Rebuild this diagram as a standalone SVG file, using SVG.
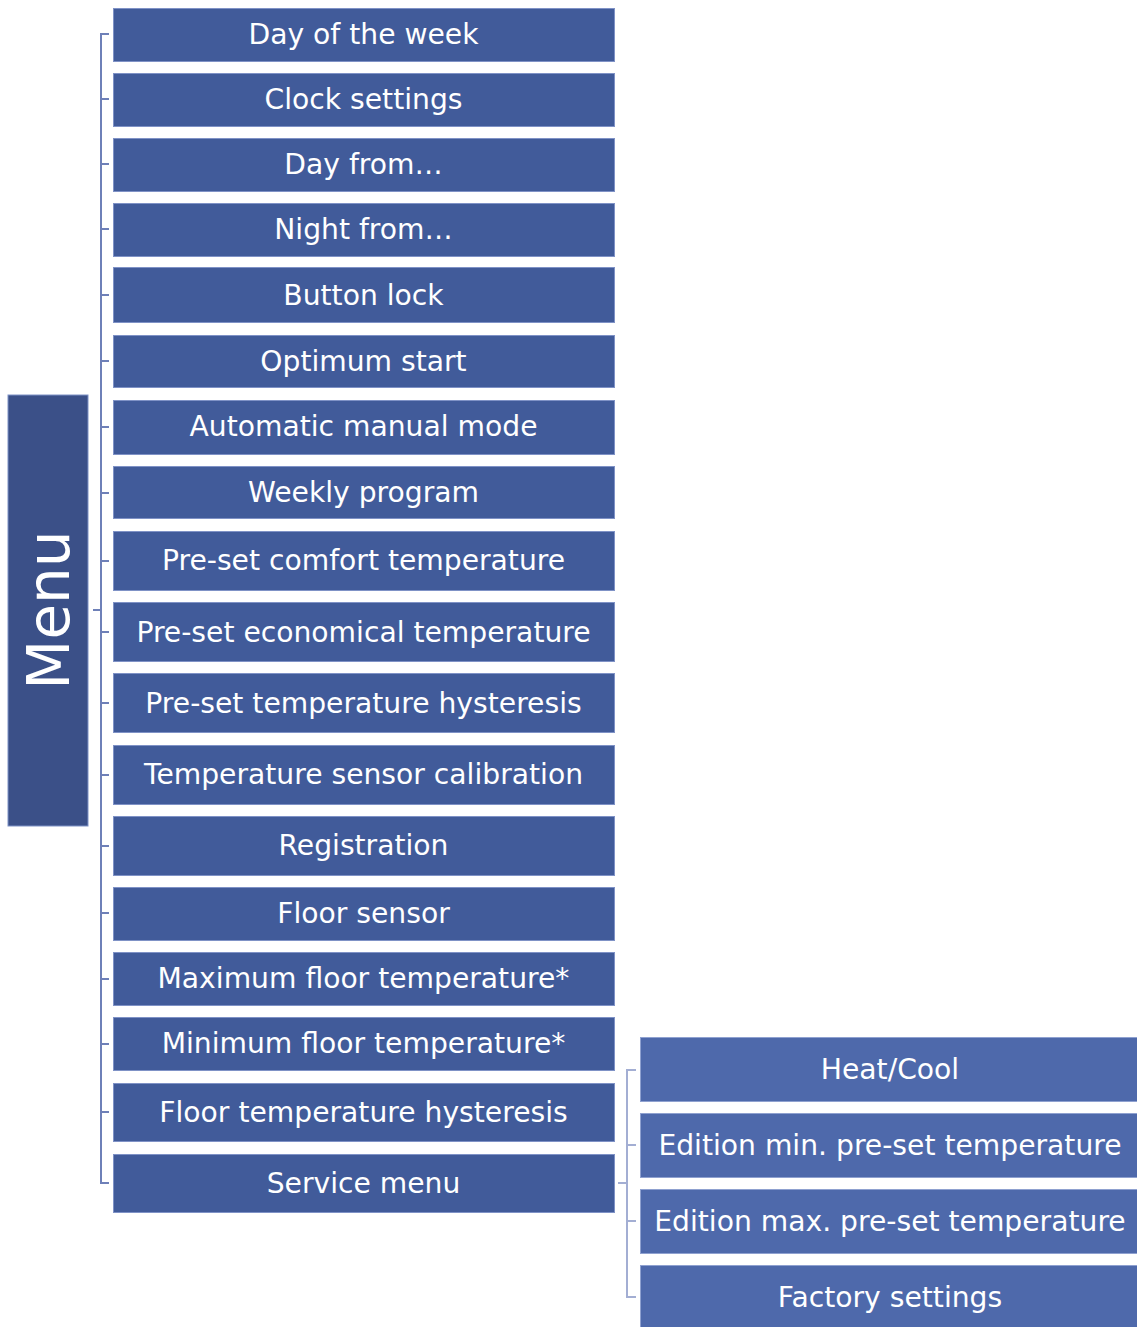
<svg xmlns="http://www.w3.org/2000/svg" width="1137" height="1327" viewBox="0 0 1137 1327">
<style>
.b{fill:#415B9A;stroke:#7F92C6;stroke-width:1}
.r{fill:#4E69AB;stroke:#8FA1D0;stroke-width:1}
.m{fill:#3B5088;stroke:#7F92C6;stroke-width:1}
.t{font-family:"DejaVu Sans",Verdana,sans-serif;font-size:28.2px;fill:#FFFFFF;text-anchor:middle}
.mt{font-family:"DejaVu Sans",Verdana,sans-serif;font-size:58px;fill:#FFFFFF;text-anchor:middle}
.c1{stroke:#6E80B8;stroke-width:2;fill:none}
.c2{stroke:#A3AED3;stroke-width:2;fill:none}
</style>
<rect width="1137" height="1327" fill="#FFFFFF"/>
<g id="connectors">
<path class="c1" d="M109,34H101V1183H109"/>
<path class="c1" d="M101,99H109M101,164H109M101,229H109M101,295H109M101,361H109M101,427H109M101,493H109M101,561H109M101,632H109M101,703H109M101,775H109M101,846H109M101,913H109M101,979H109M101,1044H109M101,1112H109"/>
<path class="c1" d="M93,610H101"/>
<path class="c2" d="M636,1070H627V1297H636M627,1145H636M627,1221H636M618,1183H627"/>
</g>
<g id="menu"><rect class="m" x="8" y="395" width="80" height="431"/><text class="mt" transform="translate(69,610) rotate(-90)" x="0" y="0">Menu</text></g>
<g id="n1"><rect class="b" x="113.5" y="8.5" width="501" height="53"/><text class="t" x="363.5" y="44">Day of the week</text></g>
<g id="n2"><rect class="b" x="113.5" y="73.5" width="501" height="53"/><text class="t" x="363.5" y="109">Clock settings</text></g>
<g id="n3"><rect class="b" x="113.5" y="138.5" width="501" height="53"/><text class="t" x="363.5" y="174">Day from…</text></g>
<g id="n4"><rect class="b" x="113.5" y="203.5" width="501" height="53"/><text class="t" x="363.5" y="239">Night from…</text></g>
<g id="n5"><rect class="b" x="113.5" y="267.5" width="501" height="55"/><text class="t" x="363.5" y="305">Button lock</text></g>
<g id="n6"><rect class="b" x="113.5" y="335.5" width="501" height="52"/><text class="t" x="363.5" y="371">Optimum start</text></g>
<g id="n7"><rect class="b" x="113.5" y="400.5" width="501" height="54"/><text class="t" x="363.5" y="436">Automatic manual mode</text></g>
<g id="n8"><rect class="b" x="113.5" y="466.5" width="501" height="52"/><text class="t" x="363.5" y="502">Weekly program</text></g>
<g id="n9"><rect class="b" x="113.5" y="531.5" width="501" height="59"/><text class="t" x="363.5" y="570">Pre-set comfort temperature</text></g>
<g id="n10"><rect class="b" x="113.5" y="602.5" width="501" height="59"/><text class="t" x="363.5" y="642">Pre-set economical temperature</text></g>
<g id="n11"><rect class="b" x="113.5" y="673.5" width="501" height="59"/><text class="t" x="363.5" y="713">Pre-set temperature hysteresis</text></g>
<g id="n12"><rect class="b" x="113.5" y="745.5" width="501" height="59"/><text class="t" x="363.5" y="784">Temperature sensor calibration</text></g>
<g id="n13"><rect class="b" x="113.5" y="816.5" width="501" height="59"/><text class="t" x="363.5" y="855">Registration</text></g>
<g id="n14"><rect class="b" x="113.5" y="887.5" width="501" height="53"/><text class="t" x="363.5" y="923">Floor sensor</text></g>
<g id="n15"><rect class="b" x="113.5" y="952.5" width="501" height="53"/><text class="t" x="363.5" y="988">Maximum floor temperature*</text></g>
<g id="n16"><rect class="b" x="113.5" y="1017.5" width="501" height="53"/><text class="t" x="363.5" y="1053">Minimum floor temperature*</text></g>
<g id="n17"><rect class="b" x="113.5" y="1083.5" width="501" height="58"/><text class="t" x="363.5" y="1122">Floor temperature hysteresis</text></g>
<g id="n18"><rect class="b" x="113.5" y="1154.5" width="501" height="58"/><text class="t" x="363.5" y="1193">Service menu</text></g>
<g id="s1"><rect class="r" x="640.5" y="1037.5" width="500" height="64"/><text class="t" x="890" y="1079">Heat/Cool</text></g>
<g id="s2"><rect class="r" x="640.5" y="1113.5" width="500" height="64"/><text class="t" x="890" y="1155">Edition min. pre-set temperature</text></g>
<g id="s3"><rect class="r" x="640.5" y="1189.5" width="500" height="64"/><text class="t" x="890" y="1231">Edition max. pre-set temperature</text></g>
<g id="s4"><rect class="r" x="640.5" y="1265.5" width="500" height="64"/><text class="t" x="890" y="1307">Factory settings</text></g>
</svg>
